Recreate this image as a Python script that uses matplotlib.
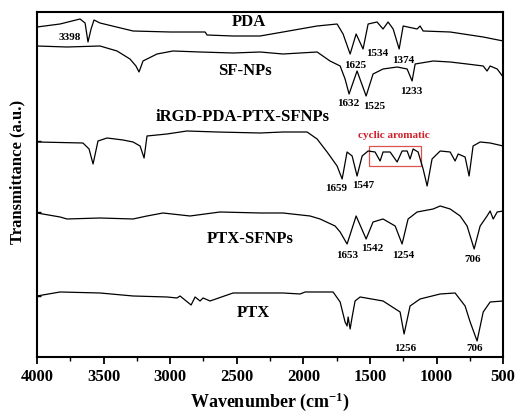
import matplotlib
matplotlib.use("Agg")
import matplotlib.pyplot as plt
from matplotlib.patches import Rectangle
from matplotlib.ticker import MultipleLocator

plt.rcParams["font.family"] = ["Liberation Serif", "DejaVu Serif"]
plt.rcParams["font.weight"] = "bold"
plt.rcParams["mathtext.fontset"] = "custom"
plt.rcParams["mathtext.rm"] = "Liberation Serif:bold"
plt.rcParams["mathtext.bf"] = "Liberation Serif:bold"
plt.rcParams["mathtext.default"] = "bf"

# FTIR spectra, stacked with offsets (transmittance in a.u.)
pda_wn = [4000, 3827, 3677, 3639, 3617, 3594, 3572, 3527, 3279, 3001, 2776, 2738,
          2723, 2528, 2325, 2153, 1897, 1747, 1702, 1649, 1604, 1552, 1514, 1447,
          1402, 1364, 1326, 1281, 1251, 1146, 1124, 1101, 898, 650, 500]
pda_t = [330, 333, 338, 334, 315, 328, 337, 334, 326, 325, 325, 325,
         322, 321, 321, 325, 331, 333, 323, 303, 323, 308, 333, 335,
         328, 335, 328, 308, 331, 328, 331, 326, 325, 320, 316]

sf_wn = [4000, 3775, 3527, 3399, 3302, 3257, 3234, 3204, 3099, 2979, 2776, 2528,
         2325, 2153, 1897, 1800, 1724, 1687, 1657, 1597, 1529, 1477, 1402, 1296,
         1221, 1184, 1161, 1026, 898, 771, 650, 621, 598, 545, 500]
sf_t = [311, 310, 311, 306, 298, 291, 285, 296, 303, 306, 305, 304,
        305, 303, 305, 296, 291, 278, 263, 286, 261, 283, 288, 290,
        288, 276, 293, 296, 295, 293, 291, 286, 291, 288, 280]

irgd_wn = [4000, 3655, 3609, 3579, 3542, 3474, 3354, 3279, 3226, 3196, 3174, 3024,
           2874, 2648, 2325, 2153, 1972, 1897, 1822, 1747, 1709, 1672, 1634, 1597,
           1559, 1514, 1462, 1424, 1402, 1349, 1296, 1259, 1221, 1199, 1176, 1139,
           1101, 1071, 1034, 973, 898, 861, 838, 786, 756, 726, 673, 598, 500]
irgd_t = [215, 214, 208, 193, 216, 219, 217, 215, 211, 199, 221, 223,
          226, 225, 224, 225, 225, 218, 205, 191, 178, 205, 201, 181,
          201, 206, 205, 196, 205, 205, 195, 206, 206, 198, 208, 205,
          188, 171, 198, 206, 205, 196, 203, 200, 181, 211, 215, 214, 211]

ptxsf_wn = [4000, 3827, 3775, 3527, 3279, 3174, 3054, 2851, 2626, 2325, 2153, 1950,
            1875, 1762, 1724, 1672, 1604, 1529, 1477, 1402, 1311, 1259, 1214, 1146,
            1026, 973, 898, 823, 771, 718, 673, 621, 598, 575, 545, 500]
ptxsf_t = [144, 140, 138, 139, 138, 141, 144, 141, 145, 144, 144, 141,
           138, 131, 125, 113, 141, 118, 135, 138, 131, 113, 138, 145,
           148, 151, 148, 141, 131, 108, 131, 141, 146, 138, 145, 146]

ptx_wn = [4000, 3827, 3527, 3279, 3024, 2949, 2926, 2843, 2813, 2776, 2753, 2701,
          2528, 2325, 2153, 2025, 1987, 1777, 1724, 1687, 1672, 1664, 1649, 1634,
          1612, 1574, 1402, 1274, 1244, 1199, 1124, 973, 861, 786, 748, 696,
          650, 598, 500]
ptx_t = [61, 65, 64, 61, 60, 59, 61, 52, 60, 56, 59, 56,
         64, 64, 64, 63, 65, 65, 55, 35, 31, 40, 28, 40,
         56, 60, 56, 45, 23, 51, 58, 63, 64, 51, 35, 16,
         45, 55, 56]

series = [(pda_wn, pda_t), (sf_wn, sf_t), (irgd_wn, irgd_t),
          (ptxsf_wn, ptxsf_t), (ptx_wn, ptx_t)]

names = ["PDA", "SF-NPs", "iRGD-PDA-PTX-SFNPs", "PTX-SFNPs", "PTX"]
name_pos = [(2408, 336), (2438, 287), (2453, 241), (2400, 119), (2378, 45)]

peak_labels = ["3398", "1625", "1534", "1374", "1632", "1525", "1233",
               "1659", "1547", "1653", "1542", "1254", "706", "1256", "706"]
peak_pos = [(3752, 320), (1612, 292), (1447, 304), (1251, 297), (1664, 254),
            (1469, 251), (1191, 266), (1754, 169), (1552, 172), (1672, 102),
            (1484, 109), (1251, 102), (733, 98), (1236, 9), (711, 9)]

fig = plt.figure(figsize=(5.18, 4.14), dpi=100)
ax = fig.add_axes([0.0714, 0.1353, 0.900, 0.8333])

for wn, t in series:
    ax.plot(wn, t, color="black", lw=0.9)

for name, (x, y) in zip(names, name_pos):
    ax.text(x, y, name, fontsize=12, fontweight="bold", ha="center", va="center")

for lab, (x, y) in zip(peak_labels, peak_pos):
    ax.text(x, y, lab, fontsize=8, fontweight="bold", ha="center", va="center")

# cyclic aromatic region on the iRGD-PDA-PTX-SFNPs trace
ax.add_patch(Rectangle((1116, 191), 1507 - 1116, 20, fill=False,
                       edgecolor="#d9534f", lw=0.9))
ax.text(1319, 222, "cyclic aromatic", color="#d0202a", fontsize=8,
        fontweight="bold", ha="center", va="center")

ax.set_xlim(4000, 500)
ax.set_ylim(0, 345)
ax.xaxis.set_major_locator(MultipleLocator(500))
ax.xaxis.set_minor_locator(MultipleLocator(250))
ax.set_yticks([61, 145, 216])
ax.set_yticklabels([])
ax.tick_params(axis="x", which="major", direction="out", length=5, width=1.3,
               labelsize=12, pad=3)
ax.tick_params(axis="x", which="minor", direction="out", length=3, width=1.0)
ax.tick_params(axis="y", direction="in", length=3, width=1.0)
for lab in ax.get_xticklabels():
    lab.set_fontweight("bold")
for sp in ax.spines.values():
    sp.set_linewidth(1.5)

ax.set_xlabel("Wavenumber (cm$^{-1}$)", fontsize=13, fontweight="bold", labelpad=4)
fig.text(0.033, 0.585, "Transmittance (a.u.)", rotation=90, fontsize=12,
         fontweight="bold", ha="center", va="center")

fig.savefig("out.png", dpi=100)
